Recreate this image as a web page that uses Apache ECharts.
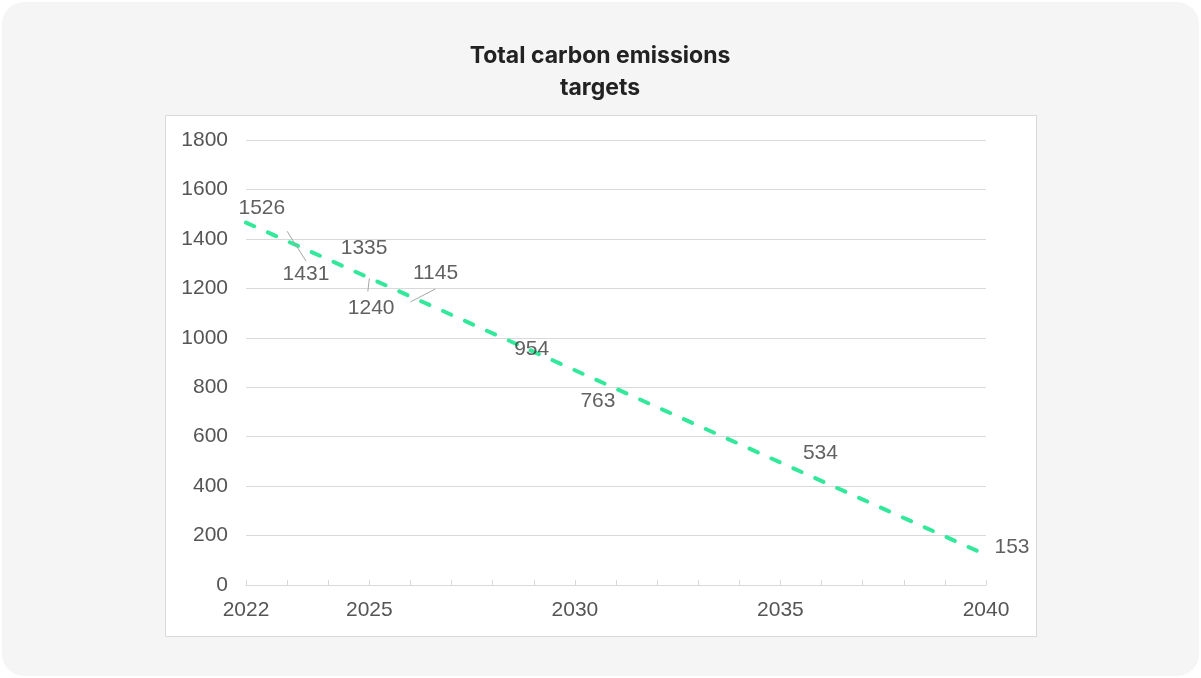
<!DOCTYPE html>
<html>
<head>
<meta charset="utf-8">
<script src="https://cdn.jsdelivr.net/npm/echarts@6/dist/echarts.min.js"></script>
<style>
  html, body { margin: 0; padding: 0; background: #ffffff; }
  #chart { width: 1201px; height: 678px; }
</style>
</head>
<body>
<div id="chart"></div>
<script>
// target points (year, value) with their data labels
const years = [2022, 2023, 2024, 2025, 2026, 2028, 2030, 2035, 2040];
const targets = [1526, 1431, 1335, 1240, 1145, 954, 763, 534, 153];

// dashed trend line at both ends
const trendYears = [2022, 2040];
const trendValues = [1466, 122];

const xTickLabels = [2022, 2025, 2030, 2035, 2040];
const yTicks = [0, 200, 400, 600, 800, 1000, 1200, 1400, 1600, 1800];

// manual label nudges (px), like the moved labels in the original
const labelShift = [[-13, 0], [-10, 43], [7, -7], [-27, 30], [-3, -29], [16, 0], [0, 5], [17, 0], [3, 0]];
// leader lines: data index and end offset (px) from the point
const leaders = [[1, 19, 30], [3, -1.5, 13], [4, 25, -13]];

let myChart = echarts.init(document.getElementById('chart'));

let option = {
    backgroundColor: 'transparent',
    animation: false,
    graphic: [
        {
            type: 'rect', z: -10, silent: true,
            shape: { x: 2, y: 2, width: 1197, height: 674, r: 22 },
            style: { fill: '#f5f5f5' }
        },
        {
            type: 'rect', z: -9, silent: true,
            shape: { x: 165.5, y: 115.5, width: 871, height: 521 },
            style: { fill: '#ffffff', stroke: '#d9d9d9', lineWidth: 1 }
        },
        {
            type: 'text', x: 600, y: 56,
            style: { text: 'Total carbon emissions', fill: '#222222', font: '700 23px Inter', align: 'center', verticalAlign: 'middle' }
        },
        {
            type: 'text', x: 600, y: 88,
            style: { text: 'targets', fill: '#222222', font: '700 23px Inter', align: 'center', verticalAlign: 'middle' }
        }
    ],
    grid: { left: 246, right: 215, top: 140, bottom: 93 },
    xAxis: {
        type: 'value',
        min: trendYears[0],
        max: trendYears[1],
        interval: 1,
        axisLine: { lineStyle: { color: '#d9d9d9', width: 1 } },
        axisTick: { show: true, inside: true, length: 5, lineStyle: { color: '#d9d9d9' } },
        splitLine: { show: false },
        axisLabel: {
            margin: 15,
            color: '#555555',
            fontFamily: 'Liberation Sans',
            fontSize: 21,
            formatter: v => xTickLabels.includes(v) ? String(v) : ''
        }
    },
    yAxis: {
        type: 'value',
        min: yTicks[0],
        max: yTicks[yTicks.length - 1],
        interval: yTicks[1] - yTicks[0],
        axisLine: { show: false },
        axisTick: { show: false },
        splitLine: { lineStyle: { color: '#d9d9d9', width: 1 } },
        axisLabel: {
            margin: 18,
            color: '#555555',
            fontFamily: 'Liberation Sans',
            fontSize: 21,
            formatter: v => String(v)
        }
    },
    series: [
        {
            name: 'trend',
            type: 'line',
            data: trendYears.map((y, i) => [y, trendValues[i]]),
            showSymbol: false,
            symbol: 'none',
            lineStyle: { color: '#33e89b', width: 4, type: [9, 15], cap: 'round' },
            z: 2
        },
        {
            name: 'leaders',
            type: 'custom',
            data: leaders.map(l => [years[l[0]], targets[l[0]], l[1], l[2]]),
            renderItem: function (params, api) {
                let p = api.coord([api.value(0), api.value(1)]);
                return {
                    type: 'line',
                    shape: { x1: p[0], y1: p[1], x2: p[0] + api.value(2), y2: p[1] + api.value(3) },
                    style: { stroke: '#a6a6a6', lineWidth: 1 }
                };
            },
            silent: true,
            z: 3
        },
        {
            name: 'targets',
            type: 'scatter',
            data: years.map((y, i) => [y, targets[i]]),
            symbolSize: 1,
            itemStyle: { color: 'rgba(0,0,0,0)' },
            label: {
                show: true,
                position: 'right',
                distance: 5,
                color: '#383838',
                fontFamily: 'Liberation Sans',
                fontSize: 21,
                formatter: p => String(p.value[1])
            },
            labelLayout: p => ({ dx: labelShift[p.dataIndex][0], dy: labelShift[p.dataIndex][1] }),
            z: 4
        }
    ]
};

myChart.setOption(option);
</script>
</body>
</html>
